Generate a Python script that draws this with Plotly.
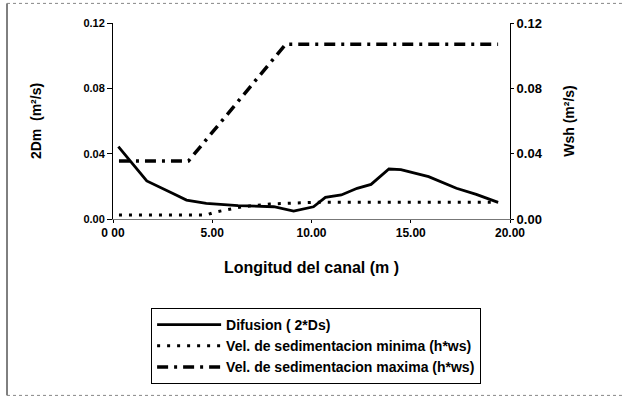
import plotly.graph_objects as go

# Difusion (2*Ds)
dif_x = [0.27, 1.70, 3.10, 3.70, 4.70, 6.30, 8.10, 9.10, 10.10, 10.70, 11.50, 12.30, 13.00, 13.90, 14.50, 15.90, 17.30, 18.30, 19.40]
dif_y = [0.0443, 0.0233, 0.0151, 0.0116, 0.0096, 0.0082, 0.0075, 0.0049, 0.0075, 0.0133, 0.0147, 0.0188, 0.0212, 0.0306, 0.0302, 0.0259, 0.0188, 0.0151, 0.0102]

# Vel. de sedimentacion minima (h*ws)
vmin_x = [0.30, 4.70, 5.10, 5.90, 6.50, 7.90, 10.10, 19.40]
vmin_y = [0.0024, 0.0024, 0.0041, 0.0059, 0.0075, 0.0092, 0.0102, 0.0102]

# Vel. de sedimentacion maxima (h*ws)
vmax_x = [0.30, 3.80, 8.70, 19.40]
vmax_y = [0.0355, 0.0355, 0.1070, 0.1070]

x_ticks = [0, 5, 10, 15, 20]
x_tick_labels = ["0 00", "5.00", "10.00", "15.00", "20.00"]
y_ticks = [0.0, 0.04, 0.08, 0.12]
y_tick_labels = ["0.00", "0.04", "0.08", "0.12"]

fig = go.Figure()
fig.add_trace(go.Scatter(x=dif_x, y=dif_y, mode="lines", name="Difusion ( 2*Ds)",
                         line=dict(color="black", width=2.8), yaxis="y"))
fig.add_trace(go.Scatter(x=vmin_x, y=vmin_y, mode="lines", name="Vel. de sedimentacion minima (h*ws)",
                         line=dict(color="black", width=3, dash="3px,7px"), yaxis="y2"))
fig.add_trace(go.Scatter(x=vmax_x, y=vmax_y, mode="lines", name="Vel. de sedimentacion maxima (h*ws)",
                         line=dict(color="black", width=3.5, dash="11px,6px,3px,6px"), yaxis="y2"))

axis_font = dict(family="Liberation Sans", color="black", weight="bold")

fig.update_layout(
    width=622, height=398,
    margin=dict(l=113, r=112, t=23, b=179),
    paper_bgcolor="white", plot_bgcolor="white",
    font=dict(family="Liberation Sans", color="black", weight="bold"),
    showlegend=True,
    legend=dict(x=0.096, y=-0.454, xanchor="left", yanchor="top",
                bordercolor="black", borderwidth=1, bgcolor="white",
                font=dict(size=14, family="Liberation Sans", color="black", weight="bold"),
                itemwidth=64, tracegroupgap=0),
    xaxis=dict(range=[0, 20], tickvals=x_ticks, ticktext=x_tick_labels,
               showgrid=False, zeroline=False, showline=True, linecolor="#777", linewidth=1,
               ticks="outside", ticklen=3, tickcolor="black",
               tickfont=dict(size=12, **axis_font),
               title=dict(text="Longitud del canal (m )", font=dict(size=16, **axis_font), standoff=22)),
    yaxis=dict(range=[0, 0.12], tickvals=y_ticks, ticktext=y_tick_labels,
               showgrid=False, zeroline=False, showline=True, linecolor="black", linewidth=1,
               ticks="outside", ticklen=5, tickcolor="black",
               tickfont=dict(size=11, **axis_font),
               title=dict(text="2Dm  (m²/s)", font=dict(size=14, **axis_font), standoff=38)),
    yaxis2=dict(range=[0, 0.12], tickvals=y_ticks, ticktext=y_tick_labels,
                overlaying="y", side="right",
                showgrid=False, zeroline=False, showline=True, linecolor="black", linewidth=1,
                ticks="outside", ticklen=3, tickcolor="black",
                tickfont=dict(size=13, **axis_font),
                title=dict(text="Wsh (m²/s)", font=dict(size=14, **axis_font), standoff=22)),
    shapes=[
        dict(type="line", xref="paper", yref="paper", x0=-0.267, x1=-0.267, y0=-0.9, y1=1.1,
             line=dict(color="black", width=1)),
        dict(type="line", xref="paper", yref="paper", x0=-0.267, x1=1.282, y0=1.1, y1=1.1,
             line=dict(color="#888", width=1, dash="dot")),
        dict(type="line", xref="paper", yref="paper", x0=-0.267, x1=1.282, y0=-0.9, y1=-0.9,
             line=dict(color="#888", width=1, dash="dot")),
    ],
)

fig.write_html("out.html")
